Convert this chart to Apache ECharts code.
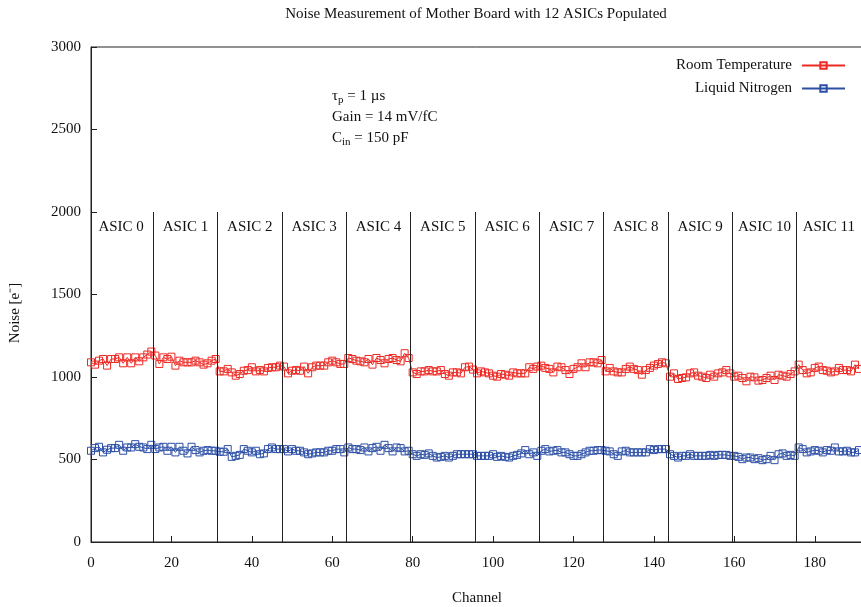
<!DOCTYPE html>
<html>
<head>
<meta charset="utf-8">
<script src="https://cdn.jsdelivr.net/npm/echarts@6/dist/echarts.min.js"></script>
<style>html,body{margin:0;padding:0;background:#fff;}#c{width:861px;height:607px;}</style>
</head>
<body>
<div id="c"></div>
<script>
const titleText = 'Noise Measurement of Mother Board with 12 ASICs Populated';
const seriesNames = ['Room Temperature', 'Liquid Nitrogen'];
const yTicks = [0, 500, 1000, 1500, 2000, 2500, 3000];
const xTicks = [0, 20, 40, 60, 80, 100, 120, 140, 160, 180];
const asicLabels = ['ASIC 0','ASIC 1','ASIC 2','ASIC 3','ASIC 4','ASIC 5','ASIC 6','ASIC 7','ASIC 8','ASIC 9','ASIC 10','ASIC 11'];
const asicCenters = [7.5, 23.5, 39.5, 55.5, 71.5, 87.5, 103.5, 119.5, 135.5, 151.5, 167.5, 183.5];
const asicBounds = [15.5, 31.5, 47.5, 63.5, 79.5, 95.5, 111.5, 127.5, 143.5, 159.5, 175.5];
const asicLabelY = 1910;
const boundTop = 2000;

const roomTemp = [
  1089,1075,1099,1109,1069,1109,1109,1119,1083,1119,1083,1119,1095,1119,1136,1154,
  1130,1079,1119,1109,1123,1069,1099,1089,1089,1089,1099,1089,1075,1083,1099,1109,
  1034,1034,1049,1028,1008,1018,1038,1042,1059,1034,1042,1034,1055,1059,1059,1069,
  1063,1022,1038,1042,1038,1063,1022,1059,1069,1069,1069,1089,1099,1089,1079,1079,
  1115,1109,1099,1095,1089,1109,1075,1115,1103,1083,1109,1115,1103,1095,1144,1115,
  1028,1018,1034,1034,1042,1034,1034,1042,1018,1008,1028,1028,1022,1059,1063,1045,
  1022,1034,1028,1022,1008,1002,1018,1014,1008,1028,1022,1022,1022,1059,1049,1063,
  1069,1055,1049,1028,1063,1059,1042,1018,1049,1059,1083,1059,1089,1089,1083,1103,
  1034,1055,1034,1028,1028,1049,1063,1049,1042,1014,1042,1055,1069,1079,1089,1083,
  1002,1022,988,994,998,1022,1028,1008,1002,994,1014,1002,1022,1028,1042,1022,
  1002,1008,994,974,1002,998,978,982,994,1008,982,1014,1008,1002,1018,1034,
  1075,1042,1022,1028,1055,1063,1042,1038,1028,1034,1055,1042,1042,1034,1075,1049
];
const liquidN2 = [
  553,569,577,543,559,569,569,589,553,573,573,593,577,573,563,589,
  563,573,577,553,577,543,577,553,537,577,557,543,553,557,553,553,
  547,547,563,516,522,528,563,553,543,553,532,537,563,573,563,563,
  563,549,563,553,553,543,532,537,543,543,543,553,553,563,563,543,
  573,563,563,557,573,549,569,577,553,589,569,549,573,569,549,553,
  532,522,532,528,537,522,512,516,522,512,522,532,532,532,532,532,
  522,522,522,522,532,516,522,516,512,522,528,537,557,532,543,522,
  553,563,549,553,557,543,543,532,522,522,532,543,553,553,557,557,
  553,549,532,522,549,553,543,543,543,543,543,563,557,563,563,563,
  532,522,512,522,522,532,522,522,522,522,528,522,528,528,528,522,
  522,516,502,512,512,502,508,496,502,522,496,532,537,522,528,522,
  573,563,543,549,557,553,543,557,553,573,549,549,553,543,543,557
];

const FONT = 'Liberation Serif';
const RED = '#ee2a24';
const BLUE = '#2c4fa6';
const INK = '#111';

const chart = echarts.init(document.getElementById('c'), null, {renderer: 'canvas'});

function mkSeries(name, values, color) {
  return {
    name: name,
    type: 'line',
    data: values.map((v, i) => [i, v]),
    symbol: 'rect',
    symbolSize: 7,
    showAllSymbol: true,
    lineStyle: {color: color, width: 1},
    itemStyle: {color: 'rgba(255,255,255,0)', borderColor: color, borderWidth: 1},
    emphasis: {disabled: true},
    z: 3
  };
}

const option = {
  animation: false,
  backgroundColor: '#fff',
  textStyle: {fontFamily: FONT, color: INK},
  title: {
    text: titleText,
    left: 471, top: 2, textAlign: 'center',
    textStyle: {fontFamily: FONT, fontSize: 15, fontWeight: 'normal', color: INK}
  },
  legend: {
    data: seriesNames,
    orient: 'vertical',
    align: 'right',
    right: 15, top: 58, padding: 0,
    itemWidth: 43, itemHeight: 8, itemGap: 8,
    textStyle: {fontFamily: FONT, fontSize: 15, color: INK, padding: [0, 5, 0, 0]},
    selectedMode: false
  },
  grid: {left: 91, right: -2, top: 47, bottom: 65, outerBoundsMode: 'none', containLabel: false,
    show: true, borderColor: '#222', borderWidth: 1, backgroundColor: 'transparent'},
  xAxis: {
    type: 'value', min: 0, max: 192, interval: 20,
    name: 'Channel', nameLocation: 'middle', nameGap: 49,
    nameTextStyle: {fontFamily: FONT, fontSize: 15, color: INK},
    axisLine: {show: true, lineStyle: {color: '#222', width: 1}},
    axisTick: {show: true, inside: true, length: 6, lineStyle: {color: '#222'}},
    axisLabel: {fontFamily: FONT, fontSize: 15, color: INK, margin: 14, showMaxLabel: false,
      formatter: v => (xTicks.indexOf(v) >= 0 ? String(v) : '')},
    splitLine: {show: false}
  },
  yAxis: {
    type: 'value', min: yTicks[0], max: yTicks[yTicks.length - 1], interval: 500,
    axisLine: {show: true, lineStyle: {color: '#222', width: 1}},
    axisTick: {show: true, inside: true, length: 6, lineStyle: {color: '#222'}},
    axisLabel: {fontFamily: FONT, fontSize: 15, color: INK, margin: 10,
      formatter: v => (yTicks.indexOf(v) >= 0 ? String(v) : '')},
    splitLine: {show: false}
  },
  graphic: [
    {type: 'text', x: 15, y: 313, rotation: Math.PI / 2,
      style: {text: 'Noise [e⁻]', font: '15px "Liberation Serif"', fill: INK, align: 'center', verticalAlign: 'middle'}},
    {type: 'text', x: 332, y: 87,
      style: {text: '{n|τ}{s|p}{n| = 1 µs}', fill: INK, align: 'left', verticalAlign: 'top',
        rich: {n: {fontFamily: FONT, fontSize: 15, fill: INK, lineHeight: 18}, s: {fontFamily: FONT, fontSize: 11, fill: INK, padding: [8, 0, 0, 0]}}}},
    {type: 'text', x: 332, y: 110,
      style: {text: 'Gain = 14 mV/fC', font: '15px "Liberation Serif"', fill: INK, align: 'left', verticalAlign: 'top'}},
    {type: 'text', x: 332, y: 129,
      style: {text: '{n|C}{s|in}{n| = 150 pF}', fill: INK, align: 'left', verticalAlign: 'top',
        rich: {n: {fontFamily: FONT, fontSize: 15, fill: INK, lineHeight: 18}, s: {fontFamily: FONT, fontSize: 11, fill: INK, padding: [8, 0, 0, 0]}}}}
  ],
  series: [
    mkSeries(seriesNames[0], roomTemp, RED),
    mkSeries(seriesNames[1], liquidN2, BLUE),
    {
      name: 'asic', type: 'scatter', symbolSize: 0, silent: true,
      itemStyle: {opacity: 1},
      data: asicCenters.map((c, i) => ({value: [c, asicLabelY], name: asicLabels[i]})),
      label: {show: true, position: 'inside', formatter: p => p.name, fontFamily: FONT, fontSize: 15, color: INK, opacity: 1},
      markLine: {
        silent: true, symbol: 'none', animation: false,
        label: {show: false},
        lineStyle: {color: '#222', width: 1, type: 'solid', opacity: 1},
        data: asicBounds.map(b => [{coord: [b, 0]}, {coord: [b, boundTop]}])
      },
      z: 2
    }
  ]
};
chart.setOption(option);
</script>
</body>
</html>
